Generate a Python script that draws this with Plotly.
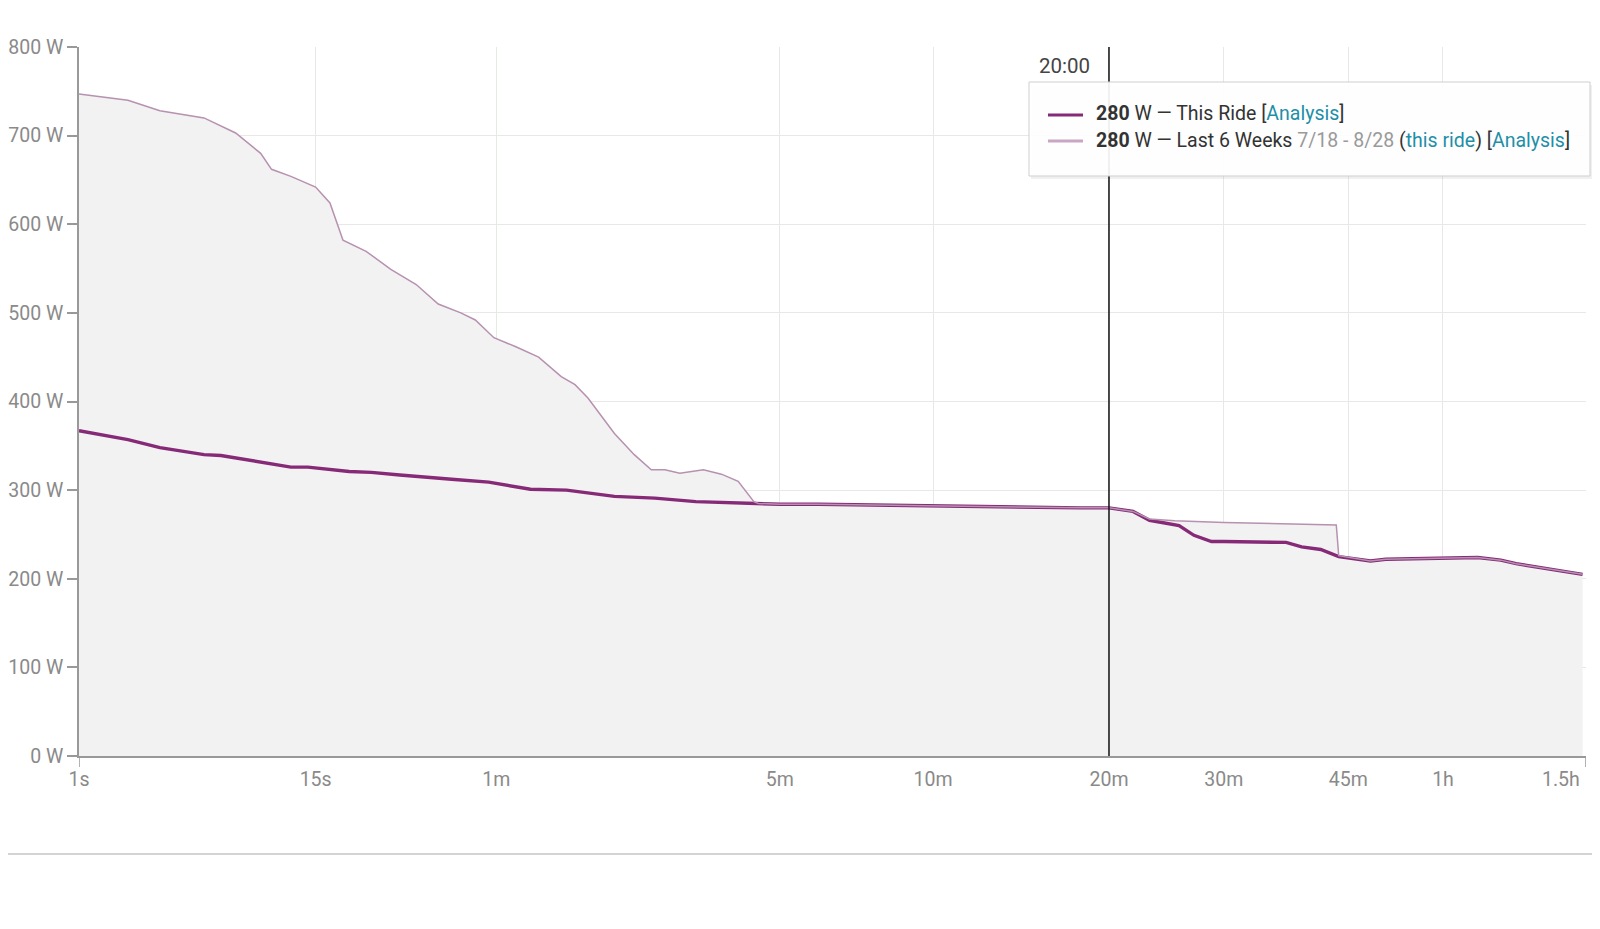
import plotly.graph_objects as go

# ---- data: power-duration curves (duration in seconds, power in watts) ----
ride_sec = [1, 2, 3, 5, 6, 8, 12, 14, 20, 24, 27, 30, 45, 57, 75, 94, 125, 157, 196, 270,
            300, 360, 420, 480, 540, 600, 720, 840, 960, 1080, 1200,
            1310, 1390, 1543, 1625, 1726, 1800, 2214, 2328, 2475, 2620,
            2893, 3032, 3600, 3986, 4258, 4448, 5350]
ride_w = [367, 357, 348, 340, 339, 334, 326, 326, 321, 320, 318, 317, 312, 309, 301, 300, 293, 291, 287, 285,
          284, 284, 283.5, 283, 282, 282, 281.5, 281, 280.5, 280, 280,
          276, 266, 260, 249, 242, 242, 241, 236, 233, 225,
          220, 222, 223, 224, 221, 217, 205]

six_sec = [1, 2, 3, 5, 7, 9, 10, 12, 15, 17, 19, 23, 28, 34, 40, 47, 52, 59, 68, 79, 91, 99, 107,
           125, 140, 154, 166, 180, 204, 224, 244, 264, 270,
           300, 360, 420, 480, 540, 600, 720, 840, 960, 1080, 1200,
           1310, 1390, 1520, 1800, 2600, 2620,
           2893, 3032, 3600, 3986, 4258, 4448, 5350]
six_w = [747, 740, 728, 720, 703, 680, 662, 654, 642, 624, 582, 569.5, 549, 532, 510, 500, 492, 472, 462, 450, 428, 419, 404,
         364, 340, 323, 323, 319, 323, 318, 310, 287, 285,
         284, 284, 283.5, 283, 282, 282, 281.5, 281, 280.5, 280, 280,
         276, 267.5, 265.5, 263.6, 260.6, 226,
         220, 222, 223, 224, 221, 217, 205]

tick_sec = [1, 15, 60, 300, 600, 1200, 1800, 2700, 3600, 5400]
tick_lbl = ["1s", "15s", "1m", "5m", "10m", "20m", "30m", "45m", "1h", "1.5h"]

cursor_sec = 1200
cursor_lbl = "20:00"
ride_val = 280
six_val = 280


def pscale(t):
    """power scale used by the duration axis"""
    return t ** 0.2


DARK = "#862a78"
LIGHT = "#b791b0"
LINK = "#1f8fa8"

W, H = 1600, 929
ML, MR, MT, MB = 71, 22, 39, 181
PW, PH = W - ML - MR, H - MT - MB


def px(x):
    return (x - ML) / PW


def py(y):
    return (H - MB - y) / PH


fig = go.Figure()
fig.add_trace(go.Scatter(x=[pscale(t) for t in six_sec], y=six_w, mode="lines",
                         line=dict(width=0, color=LIGHT), fill="tozeroy",
                         fillcolor="#f2f2f2", hoverinfo="skip", showlegend=False))
fig.add_trace(go.Scatter(x=[pscale(t) for t in ride_sec], y=ride_w, mode="lines",
                         line=dict(width=3.4, color=DARK), name="This Ride", showlegend=False))
fig.add_trace(go.Scatter(x=[pscale(t) for t in six_sec], y=six_w, mode="lines",
                         line=dict(width=1.5, color=LIGHT), name="Last 6 Weeks", showlegend=False))

shapes = [
    dict(type="line", xref="x", yref="y", x0=pscale(cursor_sec), x1=pscale(cursor_sec), y0=0, y1=800,
         line=dict(color="#111", width=1.5), layer="above"),
    dict(type="rect", xref="paper", yref="paper", x0=px(1023), x1=px(1584), y0=py(77), y1=py(171),
         fillcolor="rgba(0,0,0,0.06)", line=dict(width=0), layer="above"),
    dict(type="rect", xref="paper", yref="paper", x0=px(1021), x1=px(1582), y0=py(74), y1=py(168),
         fillcolor="rgba(255,255,255,0.92)", line=dict(color="#cfcfcf", width=1), layer="above"),
    dict(type="line", xref="paper", yref="paper", x0=px(1040), x1=px(1075), y0=py(107), y1=py(107),
         line=dict(color=DARK, width=3), layer="above"),
    dict(type="line", xref="paper", yref="paper", x0=px(1040), x1=px(1075), y0=py(133), y1=py(133),
         line=dict(color="#c9a6c3", width=3), layer="above"),
    dict(type="line", xref="paper", yref="paper", x0=px(0), x1=px(W), y0=py(846), y1=py(846),
         line=dict(color="#d3d3d3", width=2)),
    dict(type="line", xref="x", yref="paper", x0=pscale(tick_sec[0]), x1=pscale(tick_sec[0]),
         y0=0, y1=py(759), line=dict(color="#999", width=1.5)),
    dict(type="line", xref="x", yref="paper", x0=pscale(tick_sec[-1]), x1=pscale(tick_sec[-1]),
         y0=0, y1=py(759), line=dict(color="#999", width=1.5)),
]

fnt = "Roboto, 'Noto Sans', sans-serif"
annotations = [
    dict(xref="paper", yref="paper", x=px(1084), y=py(58), xanchor="right", yanchor="middle",
         text=cursor_lbl, showarrow=False, font=dict(family=fnt, size=20.5, color="#444")),
    dict(xref="paper", yref="paper", x=px(1086), y=py(106), xanchor="left", yanchor="middle",
         text=f"<b>{ride_val}</b> W — This Ride [<span style='color:{LINK}'>Analysis</span>]",
         showarrow=False, font=dict(family=fnt, size=19.5, color="#333")),
    dict(xref="paper", yref="paper", x=px(1086), y=py(132), xanchor="left", yanchor="middle",
         text=(f"<b>{six_val}</b> W — Last 6 Weeks <span style='color:#9a9a9a'>7/18 - 8/28</span> "
               f"(<span style='color:{LINK}'>this ride</span>) [<span style='color:{LINK}'>Analysis</span>]"),
         showarrow=False, font=dict(family=fnt, size=19.5, color="#333")),
    # last duration label, kept inside the visible page edge
    dict(xref="paper", yref="paper", x=px(1574), y=py(771), xanchor="right", yanchor="middle",
         text=tick_lbl[-1], showarrow=False,
         font=dict(family=fnt, size=19.5, color="#8a8a8a")),
]

fig.update_layout(
    width=W, height=H,
    margin=dict(l=ML, r=MR, t=MT, b=MB),
    paper_bgcolor="white", plot_bgcolor="white",
    font=dict(family=fnt),
    shapes=shapes, annotations=annotations,
    xaxis=dict(range=[pscale(1), pscale(5400)], tickvals=[pscale(t) for t in tick_sec],
               ticktext=tick_lbl[:-1] + [""],
               showgrid=True, gridcolor="#e5eae5", gridwidth=1, zeroline=False,
               showline=True, linecolor="#999", linewidth=1.5, ticks="",
               ticklabelstandoff=5, automargin=False,
               tickfont=dict(family=fnt, size=19.5, color="#8a8a8a")),
    yaxis=dict(range=[0, 800], dtick=100, ticksuffix=" W", showgrid=True, gridcolor="#e8e8e8",
               zeroline=False, showline=True, linecolor="#999", linewidth=1.5,
               ticks="outside", ticklen=10, tickcolor="#999", tickwidth=1.5, automargin=False,
               tickfont=dict(family=fnt, size=19.5, color="#8a8a8a")),
)

fig.write_html("out.html")
